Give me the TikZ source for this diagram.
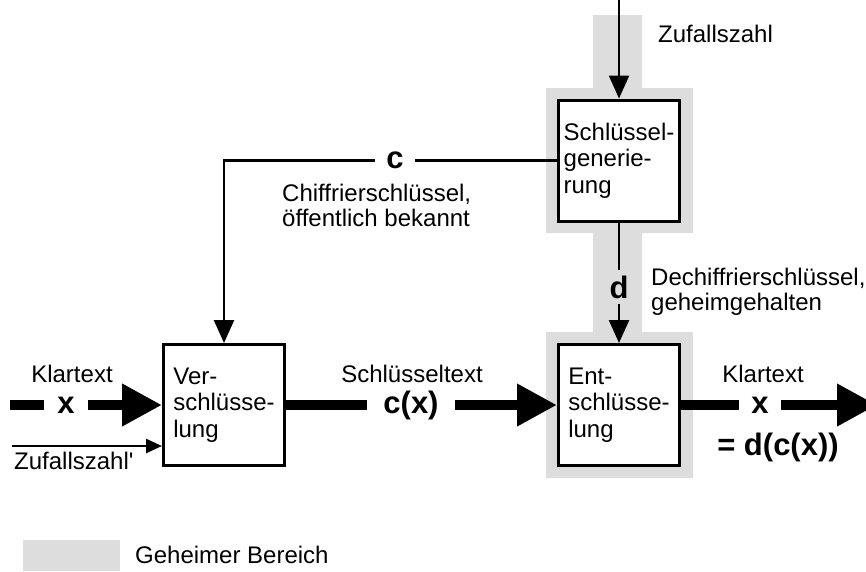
\documentclass[tikz,border=0pt]{standalone}
\usepackage{fontspec}
\setmainfont{Liberation Sans}
\usetikzlibrary{arrows.meta}
\definecolor{geheim}{RGB}{221,221,221}
\tikzset{
  kasten/.style={draw,line width=3pt,fill=white,minimum width=121pt,minimum height=121pt,
    align=left,font=\fontsize{24}{26.5}\selectfont},
  txt/.style={font=\fontsize{24}{25}\selectfont,align=left,inner sep=0pt},
  fett/.style={font=\fontsize{31}{33}\selectfont\bfseries,inner ysep=4pt},
  duenn/.style={line width=2.5pt},
  pfeil/.style={duenn,-{Triangle[length=23pt,width=20pt]}},
  kleinpfeil/.style={duenn,-{Triangle[length=16pt,width=14pt]}},
  dick/.style={line width=10pt},
  dickpfeil/.style={dick,-{Triangle[length=40pt,width=40pt]}}
}

\begin{document}
\begin{tikzpicture}[x=1pt,y=-1pt]
  \clip (0,0) rectangle (866,571);
  \path[use as bounding box] (0,0) rectangle (866,571);
  % geheimer Bereich
  \fill[geheim] (593,15) -- (642,15) -- (642,88) -- (693,88) -- (693,233) -- (642,233)
    -- (642,332) -- (693,332) -- (693,478) -- (546,478) -- (546,332) -- (593,332)
    -- (593,233) -- (546,233) -- (546,88) -- (593,88) -- cycle;
  \fill[geheim] (23,540) rectangle (120,571);
  \node[txt,anchor=west] (legende) at (135,555) {Geheimer Bereich};

  % Kaesten
  \node[kasten] (gen) at (619,160.5) {Schlüssel-\\generie-\\rung};
  \node[kasten] (ver) at (224,405) {Ver-\\schlüsse-\\lung};
  \node[kasten] (ent) at (619,405) {Ent-\\schlüsse-\\lung};

  % Schluesselerzeugung
  \coordinate (zin) at (619,0);
  \draw[pfeil] (zin) -- (gen.north);
  \node[txt,anchor=west] (zufall) at (658,34) {Zufallszahl};

  \node[fett,inner xsep=11pt] (c) at (395,160.5) {c};
  \draw[duenn] (gen.west) -- (c);
  \draw[pfeil] (c) -| (ver.north);
  \node[txt,anchor=west] (ctext) at (282,205) {Chiffrierschlüssel,\\öffentlich bekannt};

  \node[fett,inner ysep=5pt] (d) at (619,287) {d};
  \draw[duenn] (gen.south) -- (d);
  \draw[pfeil] (d) -- (ent.north);
  \node[txt,anchor=west] (dtext) at (651,292) {Dechiffrierschlüssel,\\geheimgehalten};

  % Klartext links
  \coordinate (kin) at (10,405);
  \node[fett,inner xsep=13.5pt] (xin) at (66,405) {x};
  \node[txt] (kl1) at (72,374) {Klartext};
  \draw[dick] (kin) -- (xin);
  \draw[dickpfeil] (xin) -- (ver.west);

  \coordinate (zin2) at (12,446);
  \draw[kleinpfeil] (zin2) -- (zin2 -| ver.west);
  \node[txt,anchor=west] (zufall2) at (14,461) {Zufallszahl\textquotesingle};

  % Schluesseltext
  \node[fett,inner xsep=16pt] (cx) at (411,405) {c(x)};
  \node[txt] (sl) at (412,374) {Schlüsseltext};
  \draw[dick] (ver.east) -- (cx);
  \draw[dickpfeil] (cx) -- (ent.west);

  % Klartext rechts
  \node[fett,inner xsep=12.5pt] (xout) at (760,405) {x};
  \coordinate (kout) at (877,405);
  \node[txt] (kl2) at (763,374) {Klartext};
  \node[fett] (dcx) at (778,447) {= d(c(x))};
  \draw[dick] (ent.east) -- (xout);
  \draw[dickpfeil] (xout) -- (kout);
\end{tikzpicture}
\end{document}
